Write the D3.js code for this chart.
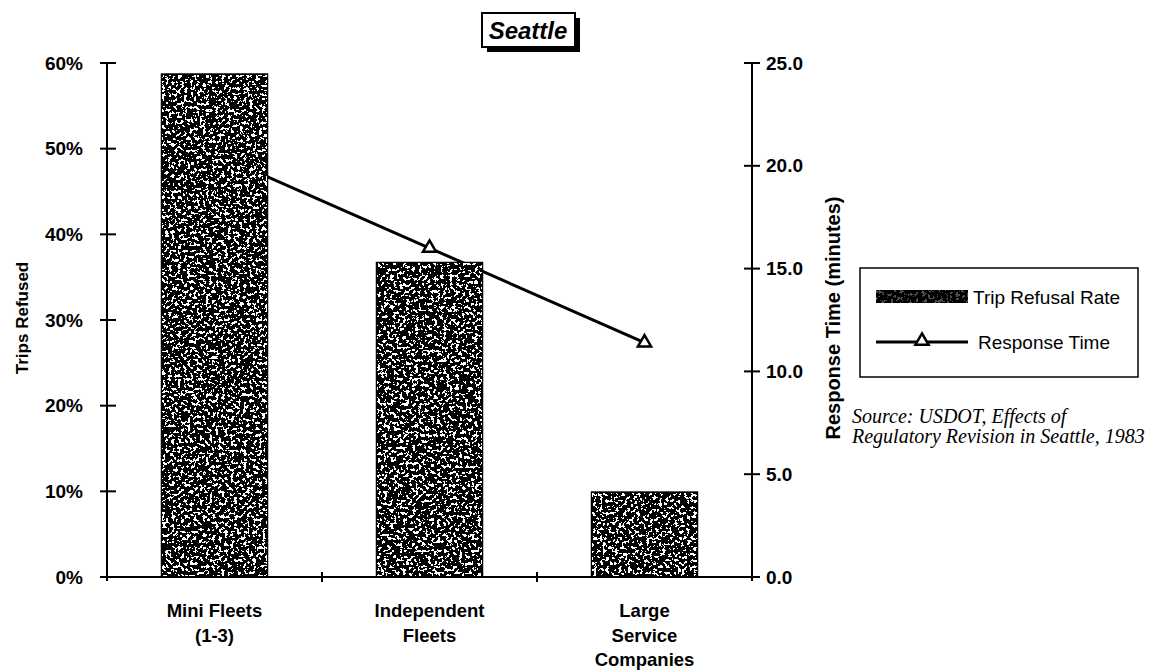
<!DOCTYPE html>
<html>
<head>
<meta charset="utf-8">
<script src="https://cdn.jsdelivr.net/npm/d3@7"></script>
<style>
  body { margin: 0; background: #fff; }
  svg { display: block; }
  text { font-family: "Liberation Sans", Arial, sans-serif; fill: #000; }
</style>
</head>
<body>
<div class="chart"></div>
<script>
// Seattle taxi regulation chart: bars = trips refused, line = response time

var categories = ["Mini Fleets (1-3)", "Independent Fleets", "Large Service Companies"];
var categoryLines = [["Mini Fleets", "(1-3)"], ["Independent", "Fleets"], ["Large", "Service", "Companies"]];
var refusalRate = [0.588, 0.368, 0.10];
var responseTime = [20.6, 16.0, 11.4];
var leftTicks = [0, 0.1, 0.2, 0.3, 0.4, 0.5, 0.6];
var rightTicks = [0, 5, 10, 15, 20, 25];

var width = 1163, height = 671;
var axL = 107, axR = 752, axT = 63, axB = 577;

let svg = d3.select(".chart").append("svg")
    .attr("width", width)
    .attr("height", height);

// speckled fill for the bars
let defs = svg.append("defs");
let filt = defs.append("filter").attr("id", "speck")
    .attr("x", 0).attr("y", 0).attr("width", 1).attr("height", 1);
filt.append("feTurbulence").attr("type", "fractalNoise")
    .attr("baseFrequency", 0.32).attr("numOctaves", 3).attr("seed", 11);
filt.append("feColorMatrix").attr("type", "matrix")
    .attr("values", "0 0 0 0 1  0 0 0 0 1  0 0 0 0 1  1 0 0 0 0");
filt.append("feComponentTransfer").append("feFuncA")
    .attr("type", "discrete").attr("tableValues", "0 0 0 0 0 0 0 1 1 1 1 1");

let x = d3.scaleBand().domain(categories).range([axL, axR]);
let y1 = d3.scaleLinear().domain([0, 0.6]).range([axB, axT]);
let y2 = d3.scaleLinear().domain([0, 25]).range([axB, axT]);
let barW = x.bandwidth() * 0.5;
let cx = c => x(c) + x.bandwidth() / 2;

// title box
let title = svg.append("g");
title.append("rect").attr("x", 487).attr("y", 18).attr("width", 93).attr("height", 34).attr("fill", "#000");
title.append("rect").attr("x", 482).attr("y", 13).attr("width", 93).attr("height", 34)
    .attr("fill", "#fff").attr("stroke", "#000").attr("stroke-width", 2);
title.append("text").attr("x", 528).attr("y", 39).attr("text-anchor", "middle")
    .style("font-size", "24px").style("font-weight", "bold").style("font-style", "italic")
    .text("Seattle");

// line (drawn under the bars)
let line = d3.line()
    .x((d, i) => cx(categories[i]))
    .y(d => y2(d));

svg.append("path").datum(responseTime)
    .attr("d", line)
    .attr("fill", "none")
    .attr("stroke", "#000")
    .attr("stroke-width", 3);

let tri = d3.symbol().type(d3.symbolTriangle).size(75);
svg.selectAll(".pt").data(responseTime).enter().append("path")
    .attr("class", "pt")
    .attr("d", tri)
    .attr("transform", (d, i) => "translate(" + cx(categories[i]) + "," + y2(d) + ")")
    .attr("fill", "#fff")
    .attr("stroke", "#000")
    .attr("stroke-width", 2.5);

// bars
let bars = svg.selectAll(".bar").data(refusalRate).enter().append("g").attr("class", "bar");
bars.append("rect")
    .attr("x", (d, i) => cx(categories[i]) - barW / 2)
    .attr("y", d => y1(d))
    .attr("width", barW)
    .attr("height", d => axB - y1(d))
    .attr("fill", "#000");
bars.append("rect")
    .attr("x", (d, i) => cx(categories[i]) - barW / 2 + 2)
    .attr("y", d => y1(d) + 2)
    .attr("width", barW - 4)
    .attr("height", d => axB - y1(d) - 2)
    .attr("fill", "#fff")
    .attr("filter", "url(#speck)");

// axes
let axes = svg.append("g").attr("stroke", "#000").attr("stroke-width", 2);
axes.append("line").attr("x1", axL).attr("x2", axL).attr("y1", axT).attr("y2", axB + 4);
axes.append("line").attr("x1", axR).attr("x2", axR).attr("y1", axT).attr("y2", axB + 4);
axes.append("line").attr("x1", axL - 6).attr("x2", axR + 8).attr("y1", axB).attr("y2", axB);

axes.selectAll(".lt").data(leftTicks).enter().append("line")
    .attr("x1", axL - 7).attr("x2", axL + 9)
    .attr("y1", d => y1(d)).attr("y2", d => y1(d));
axes.selectAll(".rt").data(rightTicks).enter().append("line")
    .attr("x1", axR - 8).attr("x2", axR + 8)
    .attr("y1", d => y2(d)).attr("y2", d => y2(d));
axes.selectAll(".xt").data(categories.slice(1)).enter().append("line")
    .attr("x1", d => x(d)).attr("x2", d => x(d))
    .attr("y1", axB - 5).attr("y2", axB + 5);

let fmtPct = d3.format(".0%"), fmtNum = d3.format(".1f");
svg.selectAll(".ll").data(leftTicks).enter().append("text")
    .attr("x", 83).attr("y", d => y1(d)).attr("dy", "0.35em")
    .attr("text-anchor", "end")
    .style("font-size", "19px").style("font-weight", "bold")
    .text(d => fmtPct(d));
svg.selectAll(".rl").data(rightTicks).enter().append("text")
    .attr("x", 766).attr("y", d => y2(d)).attr("dy", "0.35em")
    .style("font-size", "19px").style("font-weight", "bold")
    .text(d => fmtNum(d));

// category labels
let cats = svg.selectAll(".cat").data(categories).enter().append("text")
    .attr("text-anchor", "middle")
    .style("font-size", "18.5px").style("font-weight", "bold");
cats.each(function(d, i) {
    d3.select(this).selectAll("tspan").data(categoryLines[i]).enter().append("tspan")
        .attr("x", cx(d))
        .attr("y", (t, j) => 617 + j * 24.5)
        .text(t => t);
});

// axis titles
svg.append("text").attr("transform", "translate(28,318) rotate(-90)")
    .attr("text-anchor", "middle")
    .style("font-size", "17px").style("font-weight", "bold")
    .text("Trips Refused");
svg.append("text").attr("transform", "translate(840,318) rotate(-90)")
    .attr("text-anchor", "middle")
    .style("font-size", "20px").style("font-weight", "bold")
    .text("Response Time (minutes)");

// legend
let legend = svg.append("g");
legend.append("rect").attr("x", 860).attr("y", 268).attr("width", 278).attr("height", 109)
    .attr("fill", "#fff").attr("stroke", "#000").attr("stroke-width", 1.5);
legend.append("rect").attr("x", 876).attr("y", 290).attr("width", 92).attr("height", 13).attr("fill", "#000");
legend.append("rect").attr("x", 876).attr("y", 290).attr("width", 92).attr("height", 13)
    .attr("fill", "#fff").attr("filter", "url(#speck)").attr("opacity", 0.3);
legend.append("text").attr("x", 973).attr("y", 297).attr("dy", "0.35em")
    .style("font-size", "19px").text("Trip Refusal Rate");
legend.append("line").attr("x1", 876).attr("x2", 968).attr("y1", 342).attr("y2", 342)
    .attr("stroke", "#000").attr("stroke-width", 3);
legend.append("path").attr("d", tri).attr("transform", "translate(922,341)")
    .attr("fill", "#fff").attr("stroke", "#000").attr("stroke-width", 2.5);
legend.append("text").attr("x", 978).attr("y", 342).attr("dy", "0.35em")
    .style("font-size", "19px").text("Response Time");

// source note
let src = svg.append("text").attr("x", 852)
    .style("font-family", "'Liberation Serif', serif").style("font-style", "italic").style("font-size", "20px");
src.append("tspan").attr("x", 852).attr("y", 423).text("Source: USDOT, Effects of");
src.append("tspan").attr("x", 852).attr("y", 443).text("Regulatory Revision in Seattle, 1983");
</script>
</body>
</html>
